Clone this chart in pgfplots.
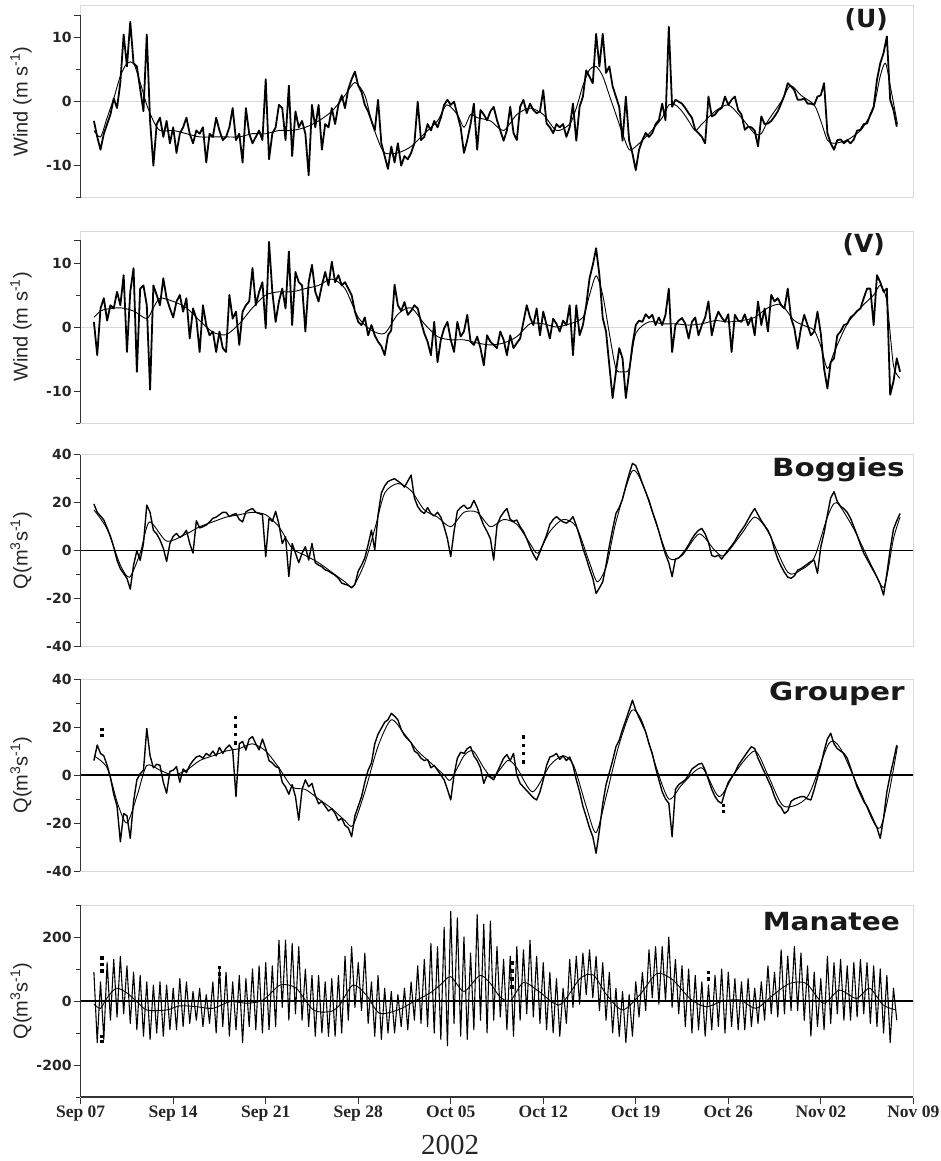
\documentclass[border=0pt]{standalone}
\usepackage{fontspec}
\usepackage{graphicx}
\setmainfont{Liberation Serif}
\newfontfamily\lsans{Liberation Sans}
\newfontfamily\djv{DejaVu Sans}
\usepackage{pgfplots}
\usepackage{pgfplotstable}
\pgfplotsset{compat=1.18}

% raw series, one value every 0.25 day starting at day 1 (Sep 08)
\pgfplotstableread[row sep=\\, header=false]{
-3.0\\-5.5\\-7.5\\-5.0\\-3.5\\-2.0\\0.5\\-1.0\\3.0\\10.5\\5.5\\12.5\\6.0\\5.5\\2.0\\-1.5\\
10.5\\-3.0\\-10.0\\-3.5\\-2.5\\-5.5\\-3.0\\-6.5\\-4.0\\-8.0\\-5.0\\-4.0\\-2.5\\-5.0\\-6.5\\-4.5\\
-5.0\\-4.0\\-9.5\\-5.0\\-5.5\\-2.5\\-4.5\\-6.0\\-5.5\\-4.0\\-1.0\\-6.0\\-5.0\\-9.5\\-1.0\\-5.0\\
-6.5\\-5.5\\-4.5\\-6.0\\3.5\\-9.0\\-5.0\\-4.0\\-0.5\\-1.0\\-6.0\\2.5\\-8.5\\-1.5\\-4.0\\-3.0\\
-5.0\\-11.5\\-0.5\\-4.0\\-0.5\\-7.5\\-3.5\\-4.0\\-1.0\\-3.5\\-0.5\\1.0\\-1.0\\2.0\\3.5\\4.7\\
2.5\\1.5\\-0.5\\-1.5\\-3.0\\-4.5\\0.3\\-6.5\\-8.5\\-10.5\\-7.0\\-9.5\\-6.5\\-10.0\\-8.5\\-9.0\\
-8.0\\-6.5\\0.0\\-6.0\\-5.5\\-3.5\\-4.5\\-3.0\\-4.0\\-2.5\\-0.5\\0.3\\-0.5\\0.0\\-2.0\\-4.0\\
-8.0\\-6.0\\-3.5\\-0.3\\-7.5\\-1.3\\-2.0\\-2.9\\-1.5\\-0.8\\-2.9\\-4.5\\-6.1\\-4.5\\-0.8\\-4.9\\
-6.0\\-0.8\\0.3\\-1.8\\-0.3\\-1.3\\-1.8\\-1.5\\1.8\\-3.4\\-4.0\\-4.9\\-3.5\\-4.0\\-3.5\\-5.5\\
-4.0\\-0.3\\-6.1\\-0.8\\0.8\\4.9\\3.9\\2.9\\10.6\\5.5\\10.6\\4.5\\5.5\\2.4\\0.8\\-0.8\\
-6.1\\0.8\\-6.1\\-8.1\\-10.7\\-7.5\\-6.0\\-4.9\\-5.5\\-4.9\\-3.5\\-2.9\\-0.3\\-2.9\\11.7\\-0.8\\
0.3\\0.0\\-0.3\\-1.0\\-1.8\\-2.5\\-4.4\\-4.9\\-5.5\\-6.5\\0.8\\-2.3\\-2.0\\-1.3\\-1.0\\0.8\\
-0.5\\0.3\\0.8\\-1.3\\-2.0\\-4.4\\-3.9\\-4.0\\-4.5\\-7.0\\-2.3\\-3.5\\-3.4\\-3.0\\-2.3\\-1.5\\
-0.3\\1.0\\2.9\\2.4\\1.8\\0.3\\0.3\\0.5\\-0.3\\-0.3\\-0.5\\0.8\\1.0\\2.9\\-4.9\\-6.5\\
-7.5\\-6.0\\-5.9\\-6.5\\-6.0\\-6.5\\-5.9\\-4.5\\-4.4\\-3.5\\-3.4\\-2.0\\-0.8\\3.4\\6.0\\7.6\\
10.2\\0.3\\-1.3\\-3.9\\
}\Uraw

\pgfplotstableread[row sep=\\, header=false]{
0.8\\-4.4\\2.9\\4.5\\1.0\\3.4\\2.9\\5.5\\3.4\\8.1\\-3.9\\5.5\\9.2\\-7.0\\6.0\\6.5\\
3.4\\-9.8\\6.5\\5.0\\3.4\\7.6\\4.5\\2.9\\1.5\\4.0\\5.0\\2.4\\4.5\\-1.8\\2.9\\1.3\\
-3.9\\3.4\\0.3\\-1.3\\-0.7\\-3.9\\-0.7\\-3.3\\-3.9\\5.0\\1.3\\2.4\\-2.8\\2.4\\3.4\\4.0\\
9.2\\3.4\\5.5\\7.0\\-0.2\\13.3\\5.5\\0.8\\4.0\\6.0\\2.9\\11.8\\0.3\\8.6\\7.0\\6.5\\
-0.7\\7.0\\9.7\\5.5\\4.0\\6.5\\8.6\\6.5\\10.2\\7.0\\8.1\\6.5\\7.0\\6.0\\5.0\\2.4\\
0.8\\0.3\\1.5\\-1.3\\0.3\\-1.3\\-2.3\\-3.0\\-4.4\\-1.3\\-0.5\\6.6\\3.4\\2.5\\3.9\\1.9\\
2.5\\3.4\\2.9\\0.8\\-1.0\\-2.3\\-4.4\\0.8\\-5.5\\-2.0\\-0.2\\0.8\\-2.0\\-3.9\\0.8\\-1.5\\
-0.7\\1.9\\-2.3\\-2.8\\-1.5\\-3.3\\-6.0\\-1.3\\-2.3\\-2.8\\-3.3\\-0.7\\-2.0\\-4.4\\-1.3\\-3.3\\
-2.5\\-1.8\\0.8\\3.4\\1.5\\0.3\\2.9\\-1.3\\2.4\\0.3\\-1.8\\1.3\\0.5\\-0.7\\1.0\\0.3\\
3.4\\-4.4\\3.4\\-1.3\\0.3\\3.4\\7.6\\9.7\\12.3\\8.1\\1.4\\-0.7\\-6.0\\-11.1\\-7.0\\-3.3\\
-4.9\\-11.1\\-7.0\\-2.8\\0.3\\1.0\\0.8\\2.0\\1.4\\1.9\\0.3\\1.5\\0.3\\1.9\\6.0\\-3.9\\
0.3\\1.0\\1.4\\0.5\\-1.8\\0.8\\1.5\\-1.3\\0.3\\1.5\\4.0\\-1.3\\1.0\\2.4\\1.5\\0.8\\
2.0\\-3.9\\1.9\\1.0\\0.8\\2.0\\0.3\\1.5\\-1.3\\4.0\\0.3\\2.9\\-0.7\\5.0\\4.0\\4.5\\
3.4\\2.9\\6.0\\1.4\\-0.2\\-3.4\\-0.2\\1.9\\0.3\\-1.3\\-0.7\\2.4\\-1.0\\-6.5\\-9.6\\-5.5\\
-4.9\\-1.3\\-0.7\\0.3\\0.5\\1.5\\1.9\\2.5\\2.9\\4.5\\6.0\\6.0\\0.3\\8.1\\7.0\\5.5\\
6.0\\-10.6\\-8.5\\-4.9\\-7.0\\
}\Vraw

\pgfplotstableread[row sep=\\, header=false]{
19.5\\16\\14.5\\12.8\\9.5\\6\\1.5\\-4\\-7.5\\-9.5\\-11.5\\-16\\-6\\0\\-4\\3\\
19\\16\\8.5\\7\\4.5\\1\\-4.5\\3\\6\\7.2\\5.5\\6.5\\8.5\\3\\-1\\12.5\\
9.5\\10\\10.7\\12\\13.5\\14\\15\\16\\16\\14.2\\15\\15.5\\13\\12\\16.2\\17\\
17.6\\16\\15.5\\15\\-2.5\\13.5\\12.2\\16.4\\11\\3\\5.8\\-10.8\\3\\-1\\-5\\-1\\
1.7\\-3.9\\3\\-5\\-6\\-6.7\\-8\\-8.5\\-9.4\\-10.2\\-11.5\\-13.5\\-14\\-14.4\\-15.5\\-14\\
-8.5\\-6\\-3\\2.5\\8.6\\0.3\\15\\24\\27\\28.8\\29.5\\30\\29\\28\\26.5\\29\\
31.5\\22\\18.4\\16.5\\15.5\\18\\15.5\\14.5\\16\\14\\10\\5\\-2.5\\8\\16.5\\18\\
19\\17.5\\18\\21\\18\\14\\10.5\\8\\5\\-3.9\\10.5\\14\\16\\17.6\\13\\12.2\\
12.8\\10\\8\\5\\1.5\\-1.5\\-3.9\\-0.5\\3\\6.5\\11\\13\\14.2\\13\\12\\11.5\\
12.5\\14.2\\10.5\\6\\1\\-3\\-7.5\\-11.5\\-17.8\\-15.5\\-13\\-6\\2\\9\\15.5\\18\\
21.5\\27\\32\\36.4\\35.5\\32\\28\\24.5\\21\\16.5\\12.5\\8\\3\\-1.5\\-5\\-10.8\\
-3.5\\-3\\-1.5\\0.3\\2.5\\5\\7\\8.5\\9.3\\7\\3.5\\-2\\-2.5\\-1.8\\-3.5\\-1.5\\
0.3\\2\\4\\6.5\\8.5\\10.5\\13\\15.5\\17.6\\15\\12.5\\10.5\\8.5\\5.5\\0.5\\-3.5\\
-6.5\\-9\\-11\\-11.5\\-10.5\\-8.1\\-7.5\\-6.5\\-5.5\\-4.5\\-4\\-9.4\\1.5\\7.5\\15\\22\\
24.6\\20.5\\18.5\\17.5\\16\\13.5\\10\\6.5\\2.5\\-1\\-3.5\\-6\\-8.5\\-11\\-14\\-18.5\\
-9.5\\0.5\\9\\12.5\\15.5\\
}\Braw

\pgfplotstableread[row sep=\\, header=false]{
6\\12.5\\9\\8\\4\\-1\\-8\\-13\\-27.8\\-16\\-17\\-26.4\\-11\\-2\\0.5\\2\\
19.4\\8\\3\\4.5\\4\\-3\\-7.6\\1.5\\2\\3.5\\-3\\2.5\\1\\4\\6\\7.5\\
8\\7\\9\\8\\10\\8\\11.5\\9\\11.2\\12.5\\10.4\\-9\\13\\14\\10.4\\15\\
16\\13\\10.5\\15\\11\\6\\5\\3.5\\3\\-3\\-5\\-8\\-4\\-9\\-18.8\\-6\\
-2\\-4.9\\-3.5\\-8.5\\-12\\-11\\-13\\-15\\-14\\-16\\-19\\-18\\-21\\-22\\-25.7\\-17\\
-13\\-9\\-3\\2\\5\\13\\17\\19.5\\22\\23\\25.7\\24.5\\23\\19\\16.5\\15\\
13.5\\10\\9\\7\\6\\6.5\\3\\4\\2\\0\\-2\\-6\\-10.4\\0\\7\\9.5\\
9\\11\\11.8\\8\\6\\3\\-3.5\\0\\-1\\-2\\1\\4\\7\\8.5\\6\\9\\
0\\-3.5\\-5\\-6.5\\-8\\-9.5\\-10.4\\-7\\-2\\4\\7.5\\8\\9\\6.5\\8\\6\\
7.5\\4\\-2\\-7\\-13\\-17.4\\-22\\-25.7\\-32.6\\-23\\-12\\-4\\1\\6\\11.8\\14.5\\
19\\22.9\\27\\31.2\\27\\24\\21\\18\\13\\9\\3\\-2\\-7\\-10\\-11.8\\-25.7\\
-6\\-4\\-3\\-2\\0\\2.5\\3.5\\4.5\\4.9\\2\\-2\\-6\\-9\\-11\\-11.8\\-7\\
-3\\-1\\1\\4\\6\\8\\10\\11.8\\11\\7\\4\\1\\-2\\-5\\-9\\-12\\
-13.5\\-16\\-15\\-11\\-10\\-9.5\\-9\\-9\\-10\\-10.4\\-6\\-1\\4\\10\\15\\17.4\\
13\\11\\10\\9\\7\\3\\-1\\-5\\-8\\-11\\-13\\-16\\-19\\-22\\-26.4\\-18\\
-7\\0\\6\\12.5\\
}\Graw

\pgfplotstableread[row sep=\\, header=false]{
90\\-130\\60\\-120\\120\\-60\\130\\-50\\140\\-40\\110\\-70\\90\\-90\\80\\-110\\
60\\-120\\50\\-100\\60\\-110\\50\\-90\\40\\-90\\70\\-80\\60\\-70\\30\\-60\\
40\\-80\\20\\-70\\60\\-100\\100\\-80\\90\\-110\\60\\-90\\80\\-130\\70\\-80\\
100\\-90\\110\\-100\\120\\-90\\110\\-80\\190\\-20\\190\\-60\\180\\-40\\170\\-60\\
100\\-80\\80\\-110\\80\\-100\\60\\-110\\70\\-110\\80\\-100\\140\\-60\\170\\-20\\
120\\-30\\150\\-70\\60\\-110\\80\\-120\\40\\-100\\30\\-100\\20\\-80\\40\\-90\\
60\\-60\\110\\-70\\130\\-80\\180\\-100\\170\\-120\\230\\-140\\280\\-70\\260\\-110\\
200\\-120\\150\\-90\\270\\-60\\240\\-100\\250\\-60\\170\\-50\\130\\-90\\140\\-110\\
170\\-60\\160\\-40\\190\\-50\\140\\-70\\120\\-90\\90\\-100\\70\\-110\\40\\-70\\
130\\-20\\140\\-10\\150\\20\\160\\10\\140\\-30\\120\\-60\\90\\-100\\40\\-110\\
30\\-130\\20\\-110\\60\\-50\\90\\-30\\160\\10\\170\\-10\\170\\0\\200\\-20\\
130\\-40\\110\\-80\\100\\-100\\80\\-90\\60\\-110\\50\\-90\\80\\-80\\100\\-100\\
90\\-80\\70\\-90\\60\\-90\\70\\-80\\40\\-70\\60\\-60\\110\\-40\\90\\-50\\
160\\-40\\140\\-30\\170\\-30\\150\\-60\\110\\-110\\90\\-80\\70\\-90\\140\\-70\\
120\\-40\\130\\-60\\110\\-60\\120\\-50\\130\\-40\\120\\-70\\110\\-80\\100\\-100\\
80\\-130\\40\\-60\\
}\Mraw

\pgfplotsset{
  panel/.style={
    scale only axis, width=832.6pt, height=192pt,
    xmin=0, xmax=63, xtick=\empty, clip=false,
    axis line style={draw=black!15, line width=0.8pt},
    tick align=outside, ytick pos=left,
    major tick length=7pt, minor tick length=5pt,
    y tick style={draw=black!80, line width=1pt},
    yticklabel style={font=\djv\bfseries\fontsize{14}{14}\selectfont, text=black!85, inner xsep=2pt},
    /pgf/number format/assume math mode=true,
  },
  rawline/.style={black, line width=1.4pt, line join=round},
  windline/.style={black, line width=1.8pt, line join=round},
  smline/.style={black, line width=0.9pt, smooth, tension=0.45},
}
\tikzset{
  ylab/.style={rotate=90, font=\lsans\fontsize{20}{20}\selectfont, text=black!85, anchor=center},
  plab/.style={anchor=north east, inner sep=0pt, font=\djv\bfseries\fontsize{25}{25}\selectfont, text=black!90},
}

\begin{document}
\begin{tikzpicture}
\path[use as bounding box] (0,0) rectangle (941pt,-1161pt);

% ---------------- U ----------------
\begin{axis}[panel, at={(80.7pt,-197.7pt)}, anchor=south west,
  ymin=-15, ymax=15, ytick={-10,0,10}, minor ytick={-15,-5,5},
  extra y ticks={13.5}, extra y tick labels={}]
  \draw[black!15, line width=0.9pt] (axis cs:0,0) -- (axis cs:63,0);
  \addplot[windline] table[x expr=\coordindex/4+1, y index=0]{\Uraw};
  \addplot[smline] coordinates {(1,-4.5) (1.5,-5.5) (2,-2.5) (2.5,0.5) (3,4) (3.5,6) (4,6) (4.5,3) (5,-0.5) (5.5,-3) (6,-4.5) (7,-4.5) (8,-5) (9,-5.5) (10,-5.5) (11,-5.5) (12,-5.5) (13,-5) (14,-5) (15,-4.5) (16,-4.5) (17,-4) (18,-3) (19,-1.5) (20,1) (20.75,3) (21.5,1) (22,-3) (22.5,-6) (23,-8) (24,-8) (25,-7) (26,-5) (27,-3) (27.7,-0.5) (28.5,-2) (29,-4) (29.5,-2) (30,-2.5) (31,-3) (32,-4.5) (33,-2) (34,-1) (35,-2) (36,-4.5) (37,-3.5) (37.5,-1) (38,2.5) (38.5,5) (39,5.5) (39.5,4) (40,1) (40.5,-2) (41,-5) (41.5,-7.5) (42,-7) (43,-5) (44,-2.5) (44.5,-0.5) (45,-0.5) (45.5,-1.5) (46,-3) (46.5,-4.5) (47,-3.5) (48,-1.5) (49,-0.5) (50,-2.5) (51,-5) (51.5,-5) (52,-3) (53,0) (53.7,2.5) (54.5,1) (55.5,-0.5) (56,-3) (56.5,-6) (57,-6.5) (58,-6) (59,-4.5) (59.5,-3) (60,-1) (60.5,4) (60.9,6) (61.3,2) (61.8,-3.5)};
  \draw[black!80, line width=1.5pt] (rel axis cs:0,0) -- (rel axis cs:0,0.95);
  \node[ylab] at (axis description cs:-0.0717,0.5) {Wind (m s\textsuperscript{-1})};
  \node[plab] at (axis description cs:0.9696,0.985) {(U)};
\end{axis}

% ---------------- V ----------------
\begin{axis}[panel, at={(80.7pt,-423pt)}, anchor=south west,
  ymin=-15, ymax=15, ytick={-10,0,10}, minor ytick={-15,-5,5},
  extra y ticks={13.5}, extra y tick labels={}]
  \draw[black!15, line width=0.9pt] (axis cs:0,0) -- (axis cs:63,0);
  \addplot[windline] table[x expr=\coordindex/4+1, y index=0]{\Vraw};
  \addplot[smline] coordinates {(1,1.5) (1.5,2.5) (2,2.8) (3,3) (4,2.5) (5,1.3) (5.5,3) (6,4.5) (7,4) (8,3) (9,1) (10,-0.8) (11,-1.2) (12,0.5) (13,3) (14,5) (15,5.5) (16,5.5) (17,6) (18,6.5) (19,7.5) (20,6) (21,1.5) (22,-0.5) (23,-1) (24,2) (25,3) (26,0.5) (27,-1.5) (28,-2) (29,-2) (30,-2.5) (31,-2.8) (32,-2.5) (33,-1.5) (34,0.5) (35,0.5) (36,0) (37,0.5) (38,1.5) (38.5,5) (39,8) (39.5,5) (40,-1) (40.5,-6.5) (41,-7) (41.5,-6.5) (42,-1) (43,0.8) (44,0.5) (45,0.5) (46,0.3) (47,0.5) (48,1) (49,0.8) (50,1) (51,1.5) (52,3) (53,3.5) (54,1) (55,0) (55.5,-0.5) (56,-3) (56.5,-6.5) (57,-4) (58,0.5) (59,3) (60,5) (60.5,6.5) (61,4) (61.5,-6) (62,-8)};
  \draw[black!80, line width=1.5pt] (rel axis cs:0,0) -- (rel axis cs:0,0.95);
  \node[ylab] at (axis description cs:-0.0717,0.5) {Wind (m s\textsuperscript{-1})};
  \node[plab] at (axis description cs:0.966,0.99) {(V)};
\end{axis}

% ---------------- Boggies ----------------
\begin{axis}[panel, at={(80.7pt,-646.7pt)}, anchor=south west,
  ymin=-40, ymax=40, ytick={-40,-20,...,40}, minor ytick={-30,-10,10,30}]
  \draw[black, line width=1.3pt] (axis cs:0,0) -- (axis cs:63,0);
  \addplot[rawline] table[x expr=\coordindex/4+1, y index=0]{\Braw};
  \addplot[smline] coordinates {(1,17) (2,9) (3,-6) (3.7,-11) (4.5,-1) (5.2,12) (6.5,4) (8,7) (9,10) (10,12) (11,14) (12,15) (13,16) (14,15) (15,10) (16,1) (17,-2) (18,-5) (19,-9) (20,-13) (20.6,-15) (21.5,-5) (22.3,10) (23,24) (24,28) (25,25) (26,17) (27,14) (28,10) (29,16) (30,16) (31,10) (32,13) (33,11) (34,3) (34.6,-1) (35.5,8) (36.5,13) (37.5,10) (38.5,-5) (39.1,-13) (39.8,-6) (40.5,12) (41.7,33) (42.5,28) (43.5,12) (44.5,-3) (45.5,-2) (46.8,7) (48,0) (48.7,-2) (50,7) (51,14) (52,8) (53.5,-9) (54.5,-8) (55.5,-3) (56.5,14) (57.2,20) (58.5,9) (60,-8) (60.8,-15) (61.5,5) (62,14)};
  \draw[black!80, line width=1.5pt] (rel axis cs:0,0) -- (rel axis cs:0,1);
  \node[ylab] at (axis description cs:-0.0717,0.5) {Q(m\textsuperscript{3}s\textsuperscript{-1})};
  \node[plab] at (axis description cs:0.99,0.984) {\scalebox{1.18}[1]{Boggies}};
\end{axis}

% ---------------- Grouper ----------------
\begin{axis}[panel, at={(80.7pt,-871pt)}, anchor=south west,
  ymin=-40, ymax=40, ytick={-40,-20,...,40}, minor ytick={-30,-10,10,30}]
  \draw[black, line width=1.3pt] (axis cs:0,0) -- (axis cs:63,0);
  \addplot[rawline] table[x expr=\coordindex/4+1, y index=0]{\Graw};
  \addplot[smline] coordinates {(1,8) (2,3) (2.8,-12) (3.5,-20) (4.3,-8) (5,4) (6,2) (7,0) (8,2) (9,6) (10,8) (11,10) (12,11) (13,13) (14,10) (15,3) (16,-5) (17,-6) (18,-10) (19,-14) (20,-19) (20.6,-21) (21.5,-7) (22.5,12) (23.5,23) (24.5,17) (25.5,10) (26.5,5) (27.5,0) (28,-2) (29,8) (29.7,10) (30.5,3) (31.2,-1) (32.3,6) (33,3) (34.2,-7) (35.5,4) (36.5,8) (37.3,4) (38.3,-14) (39,-24) (39.8,-8) (40.7,12) (41.7,27) (42.5,22) (43.5,4) (44.5,-10) (45.5,-4) (47,3) (48.3,-9) (49.5,1) (51,10) (52,0) (53.2,-13) (55,-9) (56.6,13) (57.5,11) (59,-7) (60.5,-22) (61.8,12)};
  \addplot[only marks, mark=square*, mark size=1.2pt, black] coordinates {(1.6,19) (1.6,16.5) (11.7,24) (11.7,20.5) (11.7,17) (11.7,13.5) (33.5,16) (33.5,12.5) (33.5,9) (33.5,5.5) (48.6,-12.5) (48.6,-15)};
  \draw[black!80, line width=1.5pt] (rel axis cs:0,0) -- (rel axis cs:0,1);
  \node[ylab] at (axis description cs:-0.0717,0.5) {Q(m\textsuperscript{3}s\textsuperscript{-1})};
  \node[plab] at (axis description cs:0.99,0.984) {\scalebox{1.18}[1]{Grouper}};
\end{axis}

% ---------------- Manatee ----------------
\begin{axis}[panel, at={(80.7pt,-1097pt)}, anchor=south west,
  ymin=-300, ymax=300, ytick={-200,0,200}, minor ytick={-300,-100,100,300},
  xtick={0,7,...,63}, xtick pos=bottom,
  x tick style={draw=black!80, line width=1pt},
  xticklabels={Sep 07,Sep 14,Sep 21,Sep 28,Oct 05,Oct 12,Oct 19,Oct 26,Nov\,02,Nov 09},
  xticklabel style={font=\bfseries\fontsize{17.5}{17.5}\selectfont, text=black!85, inner ysep=2pt}]
  \draw[black, line width=1.3pt] (axis cs:0,0) -- (axis cs:63,0);
  \addplot[black, line width=1.1pt, line join=round] table[x expr=\coordindex/4+1, y index=0]{\Mraw};
  \addplot[smline] coordinates {(1,-10) (1.5,-23) (2,10) (2.7,40) (3.5,25) (4.2,0) (5,-28) (6.5,-28) (7.5,-15) (8.8,-18) (10,-23) (11.3,-2) (12.6,-7) (13.8,3) (15.1,50) (16.3,40) (17.6,-28) (18.9,-33) (19.6,-12) (20.6,50) (21.6,19) (22.6,-38) (24,-28) (25.2,-2) (26.4,24) (27.2,50) (28,76) (29,30) (30.2,80) (31,55) (31.7,14) (32.5,0) (33.5,58) (34.7,29) (36.25,-12) (37.8,71) (38.8,81) (39.8,19) (41,-28) (42.3,19) (43.6,86) (44.8,66) (46.1,8) (47.3,-18) (48.6,0) (49.9,3) (51.1,-23) (52.4,19) (53.65,55) (54.9,55) (56.2,-7) (57.4,34) (58.7,8) (59.7,40) (60.7,-12) (61.7,-28)};
  \addplot[only marks, mark=square*, mark size=1.2pt, black] coordinates {(1.6,135) (1.6,115) (1.6,95) (1.6,-110) (1.6,-125) (10.5,105) (10.5,85) (10.5,65) (32.6,120) (32.6,95) (32.6,70) (32.6,45) (47.5,90) (47.5,70)};
  \draw[black!80, line width=1.5pt] (rel axis cs:0,0) -- (rel axis cs:0,1);
  \draw[black!80, line width=1.5pt] (rel axis cs:0,0) -- (rel axis cs:1,0);
  \node[ylab] at (axis description cs:-0.0717,0.5) {Q(m\textsuperscript{3}s\textsuperscript{-1})};
  \node[plab] at (axis description cs:0.984,0.965) {\scalebox{1.12}[1]{Manatee}};
\end{axis}

\node[font=\fontsize{29}{29}\selectfont, text=black!85] at (450pt,-1145pt) {2002};
\end{tikzpicture}
\end{document}
